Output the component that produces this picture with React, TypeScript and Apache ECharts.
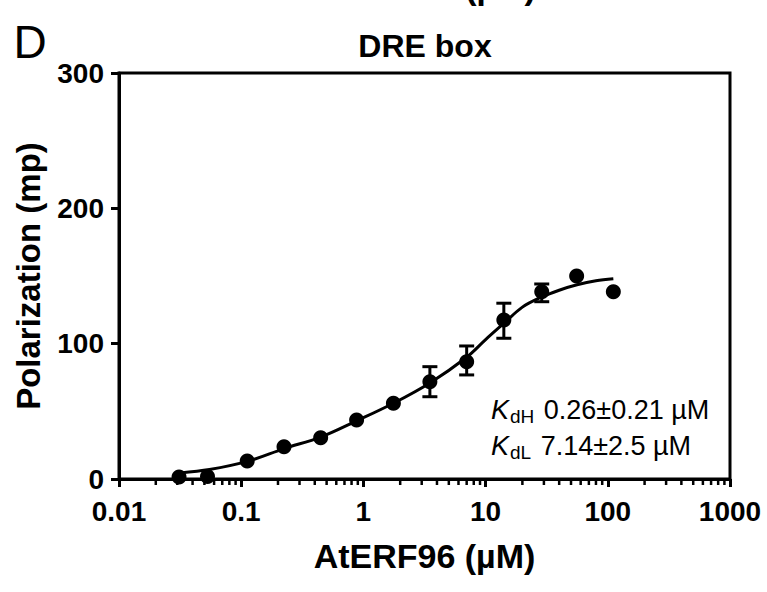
import React, { useEffect, useRef } from "react";
import * as echarts from "echarts";

// Measured points (AtERF96 concentration in µM, polarization in mP)
const CONC = [0.031, 0.053, 0.112, 0.224, 0.447, 0.88, 1.76, 3.5, 7.0, 14.1, 28.8, 55.6, 111];
const POLARIZATION = [1.5, 1.8, 13.3, 23.9, 30.5, 43.6, 56, 71.9, 86.7, 117.5, 138.4, 150, 138.4];

// Error bars (SD) visible beyond the markers
const ERR_CONC = [3.5, 7.0, 14.1, 28.8];
const ERR_LOW = [60.8, 76.9, 104, 131];
const ERR_HIGH = [83, 98.3, 129.9, 144.1];

// Fitted curve
const FIT_CONC = [0.0315, 0.055, 0.112, 0.225, 0.447, 0.88, 1.76, 3.5, 7.0, 10, 14.1, 20, 28, 40, 56, 80, 111];
const FIT_POL = [4.5, 7, 13, 22.5, 31, 43, 56, 71, 90, 103, 115, 127, 134, 139.5, 143.5, 146.5, 148];

// Axis settings
const X_MIN = 0.01;
const X_MAX = 1000;
const Y_MIN = 0;
const Y_MAX = 300;
const Y_STEP = 100;
const DECADES = [0.01, 0.1, 1, 10, 100];
const MINOR_STEPS = [2, 3, 4, 5, 6, 7, 8, 9];

const TITLE = "DRE box";
const X_NAME = "AtERF96 (µM)";
const Y_NAME = "Polarization (mp)";
const PANEL = "D";
const KD_LINES = ["{k|K}{s|dH} 0.26±0.21 µM", "{k|K}{s|dL} 7.14±2.5 µM"];

const FONT = "'Liberation Sans', Arial, Helvetica, sans-serif";

export default function App() {
  const ref = useRef<HTMLDivElement>(null);

  useEffect(() => {
    if (!ref.current) return;
    const chart = echarts.init(ref.current, null, { renderer: "svg" });

    const minorTicks: number[][] = [];
    DECADES.forEach((d) => MINOR_STEPS.forEach((m) => minorTicks.push([d * m, 0])));

    const points = CONC.map((c, i) => [c, POLARIZATION[i]]);
    const fit = FIT_CONC.map((c, i) => [c, FIT_POL[i]]);
    const errs = ERR_CONC.map((c, i) => [c, ERR_LOW[i], ERR_HIGH[i]]);

    const kdRich = {
      k: { fontStyle: "italic", fontSize: 27, fontFamily: FONT, fill: "#000" },
      s: { fontSize: 19, fontFamily: FONT, fill: "#000", padding: [13, 2, 0, 1] },
    };

    const option: any = {
      animation: false,
      backgroundColor: "#fff",
      grid: {
        left: 119,
        right: 37,
        top: 73,
        bottom: 113,
        containLabel: false,
        outerBoundsMode: "none",
        show: true,
        borderColor: "#000",
        borderWidth: 3,
      },
      xAxis: {
        type: "log",
        logBase: 10,
        min: X_MIN,
        max: X_MAX,
        name: X_NAME,
        nameLocation: "middle",
        nameGap: 60,
        nameTextStyle: { fontSize: 34, fontWeight: "bold", color: "#000", fontFamily: FONT },
        axisLine: { show: true, onZero: false, lineStyle: { color: "#000", width: 3 } },
        axisTick: { show: true, length: 8, lineStyle: { color: "#000", width: 3 } },
        minorTick: { show: false },
        splitLine: { show: false },
        axisLabel: {
          fontSize: 28,
          fontWeight: "bold",
          color: "#000",
          fontFamily: FONT,
          margin: 18,
          formatter: (v: number) => String(parseFloat(v.toPrecision(6))),
        },
      },
      yAxis: {
        type: "value",
        min: Y_MIN,
        max: Y_MAX,
        interval: Y_STEP,
        name: Y_NAME,
        nameLocation: "middle",
        nameRotate: 90,
        nameGap: 74,
        nameTextStyle: { fontSize: 33, fontWeight: "bold", color: "#000", fontFamily: FONT },
        axisLine: { show: true, lineStyle: { color: "#000", width: 3 } },
        axisTick: { show: true, length: 8, lineStyle: { color: "#000", width: 3 } },
        splitLine: { show: false },
        axisLabel: {
          fontSize: 28,
          fontWeight: "bold",
          color: "#000",
          fontFamily: FONT,
          margin: 15,
        },
      },
      series: [
        {
          type: "custom",
          name: "minorTicks",
          silent: true,
          clip: false,
          data: minorTicks,
          renderItem: (params: any, api: any) => {
            const p = api.coord([api.value(0), api.value(1)]);
            return {
              type: "line",
              shape: { x1: p[0], y1: p[1], x2: p[0], y2: p[1] + 6 },
              style: { stroke: "#000", lineWidth: 2.5 },
            };
          },
          z: 1,
        },
        {
          type: "line",
          name: "fit",
          data: fit,
          smooth: 0.35,
          showSymbol: false,
          symbol: "none",
          lineStyle: { color: "#000", width: 3 },
          silent: true,
          z: 2,
        },
        {
          type: "custom",
          name: "errors",
          silent: true,
          clip: false,
          data: errs,
          renderItem: (params: any, api: any) => {
            const lo = api.coord([api.value(0), api.value(1)]);
            const hi = api.coord([api.value(0), api.value(2)]);
            const hw = 7.5;
            const st = { stroke: "#000", lineWidth: 3 };
            return {
              type: "group",
              children: [
                { type: "line", shape: { x1: lo[0], y1: lo[1], x2: hi[0], y2: hi[1] }, style: st },
                { type: "line", shape: { x1: lo[0] - hw, y1: lo[1], x2: lo[0] + hw, y2: lo[1] }, style: st },
                { type: "line", shape: { x1: hi[0] - hw, y1: hi[1], x2: hi[0] + hw, y2: hi[1] }, style: st },
              ],
            };
          },
          z: 3,
        },
        {
          type: "scatter",
          name: "data",
          data: points,
          symbol: "circle",
          symbolSize: 15,
          itemStyle: { color: "#000", opacity: 1 },
          silent: true,
          z: 4,
        },
      ],
      graphic: [
        {
          type: "text",
          x: 425,
          y: -13,
          style: {
            text: X_NAME,
            fontSize: 34,
            fontWeight: "bold",
            fontFamily: FONT,
            fill: "#000",
            align: "center",
            verticalAlign: "middle",
          },
        },
        {
          type: "text",
          x: 30,
          y: 42,
          style: {
            text: PANEL,
            fontSize: 46,
            fontFamily: FONT,
            fill: "#000",
            align: "center",
            verticalAlign: "middle",
          },
        },
        {
          type: "text",
          x: 425,
          y: 46,
          style: {
            text: TITLE,
            fontSize: 32,
            fontWeight: "bold",
            fontFamily: FONT,
            fill: "#000",
            align: "center",
            verticalAlign: "middle",
          },
        },
        {
          type: "text",
          x: 491,
          y: 410,
          style: {
            text: KD_LINES[0],
            fontSize: 27,
            fontFamily: FONT,
            fill: "#000",
            align: "left",
            verticalAlign: "middle",
            rich: kdRich,
          },
        },
        {
          type: "text",
          x: 491,
          y: 446,
          style: {
            text: KD_LINES[1],
            fontSize: 27,
            fontFamily: FONT,
            fill: "#000",
            align: "left",
            verticalAlign: "middle",
            rich: kdRich,
          },
        },
      ],
    };

    chart.setOption(option);
    return () => chart.dispose();
  }, []);

  return (
    <div
      ref={ref}
      style={{ position: "absolute", left: 0, top: 0, width: 767, height: 592, background: "#fff" }}
    />
  );
}
